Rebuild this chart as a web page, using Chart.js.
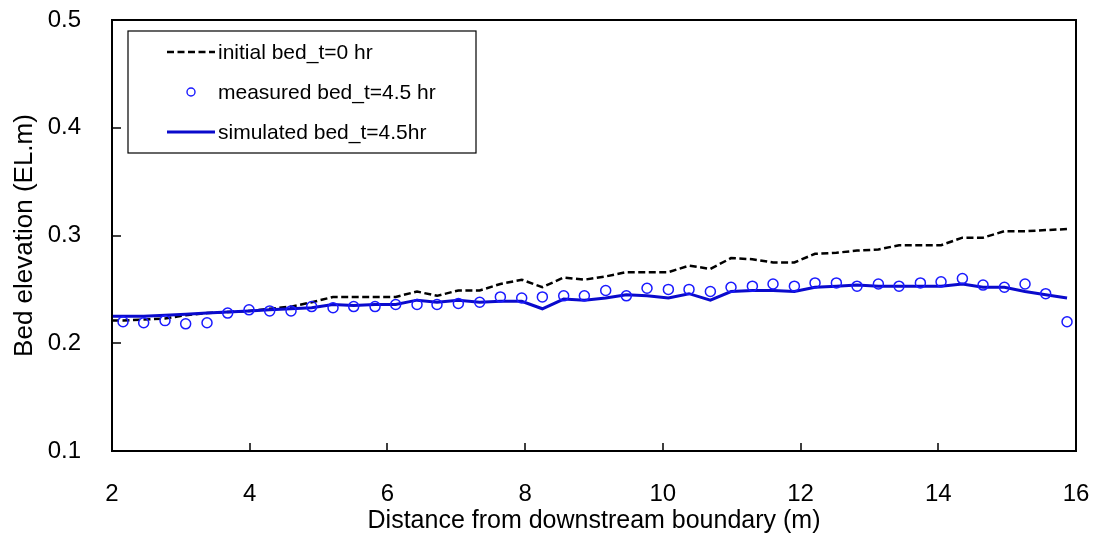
<!DOCTYPE html>
<html>
<head>
<meta charset="utf-8">
<title>Bed elevation</title>
<script src="https://cdn.jsdelivr.net/npm/chart.js@4"></script>
<style>
  html, body { margin: 0; padding: 0; background: #fff; }
</style>
</head>
<body>
<canvas id="bed-chart" width="1098" height="537"></canvas>
<script>
// measurement stations (m from downstream boundary)
const measuredX = [2.16, 2.46, 2.77, 3.07, 3.38, 3.68, 3.99, 4.29, 4.60, 4.90,
  5.21, 5.51, 5.82, 6.12, 6.43, 6.72, 7.03, 7.34, 7.64, 7.95,
  8.25, 8.56, 8.86, 9.17, 9.47, 9.77, 10.08, 10.38, 10.69, 10.99,
  11.30, 11.60, 11.91, 12.21, 12.52, 12.82, 13.13, 13.43, 13.74, 14.04,
  14.35, 14.65, 14.96, 15.26, 15.56, 15.87]
const measuredBed = [0.220, 0.219, 0.221, 0.218, 0.219, 0.228, 0.231, 0.230, 0.230, 0.234,
  0.233, 0.234, 0.234, 0.236, 0.236, 0.236, 0.237, 0.238, 0.243, 0.242,
  0.243, 0.244, 0.244, 0.249, 0.244, 0.251, 0.250, 0.250, 0.248, 0.252,
  0.253, 0.255, 0.253, 0.256, 0.256, 0.253, 0.255, 0.253, 0.256, 0.257,
  0.260, 0.254, 0.252, 0.255, 0.246, 0.220]

// profile points for the initial and simulated beds
const lineX = [2.00, 2.16, 2.46, 2.77, 3.07, 3.38, 3.68, 3.99, 4.29, 4.60, 4.90,
  5.21, 5.51, 5.82, 6.12, 6.43, 6.72, 7.03, 7.34, 7.64, 7.95,
  8.25, 8.56, 8.86, 9.17, 9.47, 9.77, 10.08, 10.38, 10.69, 10.99,
  11.30, 11.60, 11.91, 12.21, 12.52, 12.82, 13.13, 13.43, 13.74, 14.04,
  14.35, 14.65, 14.96, 15.26, 15.56, 15.87]
const initialBed = [0.221, 0.221, 0.222, 0.223, 0.226, 0.228, 0.229, 0.230, 0.232, 0.234, 0.238,
  0.243, 0.243, 0.243, 0.243, 0.248, 0.244, 0.249, 0.249, 0.255, 0.259,
  0.252, 0.261, 0.259, 0.262, 0.266, 0.266, 0.266, 0.272, 0.269, 0.279,
  0.278, 0.275, 0.275, 0.283, 0.284, 0.286, 0.287, 0.291, 0.291, 0.291,
  0.298, 0.298, 0.304, 0.304, 0.305, 0.306]
const simulatedBed = [0.225, 0.225, 0.225, 0.226, 0.227, 0.228, 0.229, 0.230, 0.231, 0.232, 0.233,
  0.236, 0.235, 0.236, 0.236, 0.240, 0.238, 0.240, 0.238, 0.239, 0.239,
  0.232, 0.241, 0.240, 0.242, 0.245, 0.244, 0.242, 0.246, 0.240, 0.248,
  0.249, 0.249, 0.248, 0.252, 0.253, 0.254, 0.253, 0.253, 0.253, 0.253,
  0.255, 0.252, 0.252, 0.248, 0.245, 0.242]

const legendLabels = ["initial bed_t=0 hr", "measured bed_t=4.5 hr", "simulated bed_t=4.5hr"]

function pairs(xs, ys) {
  return xs.map((x, i) => ({ x: x, y: ys[i] }))
}

const FONT = "'Liberation Sans', Arial, sans-serif"
Chart.defaults.font.family = FONT
Chart.defaults.color = '#000'

// box around the plot, inward ticks and the legend inside the plot
const framePlugin = {
  id: 'frame',
  afterDraw(chart) {
    const { ctx, chartArea: a, scales } = chart
    ctx.save()
    ctx.strokeStyle = '#000'
    ctx.lineWidth = 2
    ctx.strokeRect(a.left, a.top, a.right - a.left, a.bottom - a.top)

    ctx.lineWidth = 1.5
    ctx.beginPath()
    scales.y.ticks.forEach(t => {
      const py = Math.round(scales.y.getPixelForValue(t.value))
      ctx.moveTo(a.left, py)
      ctx.lineTo(a.left + 9, py)
    })
    scales.x.ticks.forEach(t => {
      const px = Math.round(scales.x.getPixelForValue(t.value))
      ctx.moveTo(px, a.bottom)
      ctx.lineTo(px, a.bottom - 8)
    })
    ctx.stroke()

    // legend
    const bx = a.left + 16, by = a.top + 11, bw = 348, bh = 122
    ctx.fillStyle = '#fff'
    ctx.fillRect(bx, by, bw, bh)
    ctx.lineWidth = 1.2
    ctx.strokeRect(bx, by, bw, bh)

    const ds = chart.data.datasets
    const rows = [by + 21, by + 61, by + 101]
    const sx0 = bx + 39, sx1 = bx + 87
    ctx.font = '21px ' + FONT
    ctx.textBaseline = 'middle'
    ctx.fillStyle = '#000'
    legendLabels.forEach((label, i) => {
      const d = ds.find(s => s.label === label)
      const y = rows[i]
      ctx.save()
      if (d.showLine) {
        ctx.strokeStyle = d.borderColor
        ctx.lineWidth = d.borderWidth
        ctx.setLineDash(d.borderDash || [])
        ctx.beginPath()
        ctx.moveTo(sx0, y)
        ctx.lineTo(sx1, y)
        ctx.stroke()
      } else {
        ctx.strokeStyle = d.borderColor
        ctx.lineWidth = 1.4
        ctx.beginPath()
        ctx.arc((sx0 + sx1) / 2, y, 4, 0, Math.PI * 2)
        ctx.stroke()
      }
      ctx.restore()
      ctx.fillText(label, bx + 90, y + 1)
    })
    ctx.restore()
  }
}

const ctx = document.getElementById('bed-chart').getContext('2d')

new Chart(ctx, {
  type: 'scatter',
  data: {
    datasets: [
      {
        label: legendLabels[0],
        data: pairs(lineX, initialBed),
        showLine: true,
        pointRadius: 0,
        borderColor: '#000',
        borderWidth: 2.5,
        borderDash: [7, 3.5],
        order: 2
      },
      {
        label: legendLabels[1],
        data: pairs(measuredX, measuredBed),
        showLine: false,
        pointStyle: 'circle',
        pointRadius: 5,
        borderWidth: 1.5,
        borderColor: '#1a1aff',
        backgroundColor: 'rgba(0,0,0,0)',
        order: 0
      },
      {
        label: legendLabels[2],
        data: pairs(lineX, simulatedBed),
        showLine: true,
        pointRadius: 0,
        borderColor: '#0a0acc',
        borderWidth: 3,
        order: 1
      }
    ]
  },
  options: {
    responsive: false,
    animation: false,
    layout: { padding: { top: 20, right: 22, left: 0, bottom: 0 } },
    plugins: {
      legend: { display: false },
      tooltip: { enabled: false }
    },
    scales: {
      x: {
        type: 'linear',
        min: 2,
        max: 16,
        // label gap is carried by tickLength so it doesn't widen the side padding
        ticks: { stepSize: 2, padding: 5, font: { size: 24 } },
        grid: { display: false, drawTicks: true, tickLength: 24 },
        border: { display: false },
        title: {
          display: true,
          text: 'Distance from downstream boundary (m)',
          font: { size: 25 },
          padding: { top: 0, bottom: 1 }
        },
        afterFit(s) { s.height = 86 }
      },
      y: {
        min: 0.1,
        max: 0.5,
        ticks: { stepSize: 0.1, padding: 5, font: { size: 24 }, callback: v => v.toFixed(1) },
        grid: { display: false, drawTicks: true, tickLength: 26 },
        border: { display: false },
        title: {
          display: true,
          text: 'Bed elevation (EL.m)',
          font: { size: 26 },
          padding: { top: 9, bottom: 0 }
        },
        afterFit(s) { s.width = 112 }
      }
    }
  },
  plugins: [framePlugin]
})
</script>
</body>
</html>
